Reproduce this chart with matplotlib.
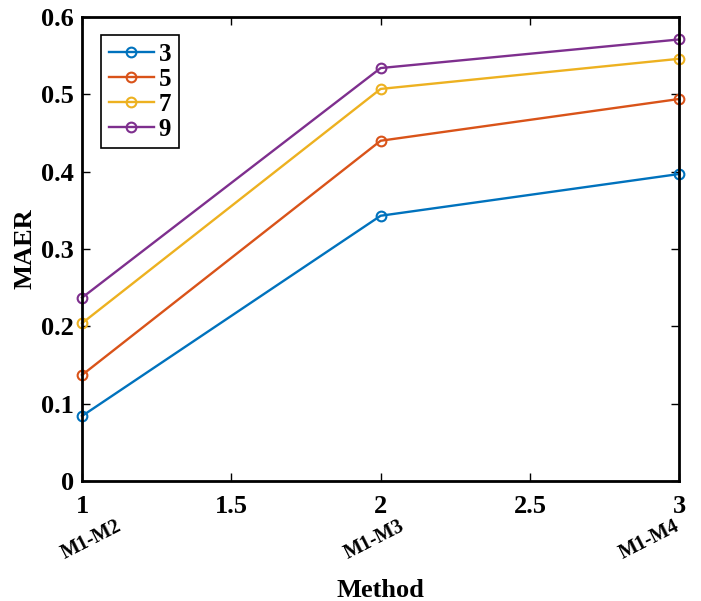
import matplotlib.pyplot as plt

# data
x = [1, 2, 3]
methods = ["M1-M2", "M1-M3", "M1-M4"]
labels = ["3", "5", "7", "9"]
s3 = [0.084, 0.343, 0.397]
s5 = [0.137, 0.440, 0.494]
s7 = [0.204, 0.507, 0.546]
s9 = [0.237, 0.534, 0.571]
colors = ["#0072BD", "#D95319", "#EDB120", "#7E2F8E"]

plt.rcParams["font.family"] = "Liberation Serif"
plt.rcParams["font.weight"] = "bold"

fig = plt.figure(figsize=(7.01, 6.01), dpi=100)
ax = fig.add_axes([0.117, 0.1997, 0.852, 0.772])

for ys, lab, c in zip([s3, s5, s7, s9], labels, colors):
    ax.plot(x, ys, color=c, lw=1.7, marker="o", markersize=7,
            markerfacecolor="none", markeredgewidth=1.5, label=lab,
            clip_on=False)

ax.set_xlim(1, 3)
ax.set_ylim(0, 0.6)
ax.set_xticks([1, 1.5, 2, 2.5, 3])
ax.set_xticklabels(["1", "1.5", "2", "2.5", "3"])
ax.set_yticks([0, 0.1, 0.2, 0.3, 0.4, 0.5, 0.6])
ax.set_yticklabels(["0", "0.1", "0.2", "0.3", "0.4", "0.5", "0.6"])
ax.tick_params(direction="in", top=True, right=True, labelsize=19,
               length=6, width=1, pad=6)
ax.tick_params(axis="x", pad=10)
for s in ax.spines.values():
    s.set_linewidth(2)

# method names under the numeric ticks
for xm, name in zip([1.03, 1.98, 2.9], methods):
    ax.text(xm, -0.127, name, rotation=27, ha="center", va="center",
            fontsize=14.5, fontweight="bold",
            transform=ax.get_xaxis_transform())

ax.set_xlabel("Method", fontsize=19, fontweight="bold", labelpad=44)
ax.set_ylabel("MAER", fontsize=19, fontweight="bold", labelpad=3)

leg = ax.legend(loc="upper left", bbox_to_anchor=(0.032, 0.961), fontsize=18,
                handlelength=1.8, fancybox=False, framealpha=1,
                edgecolor="black", borderpad=0.3, labelspacing=0.08,
                handletextpad=0.2, borderaxespad=0)
leg.get_frame().set_linewidth(1.2)
for t in leg.get_texts():
    t.set_fontweight("bold")

fig.savefig("out.png", dpi=100)
